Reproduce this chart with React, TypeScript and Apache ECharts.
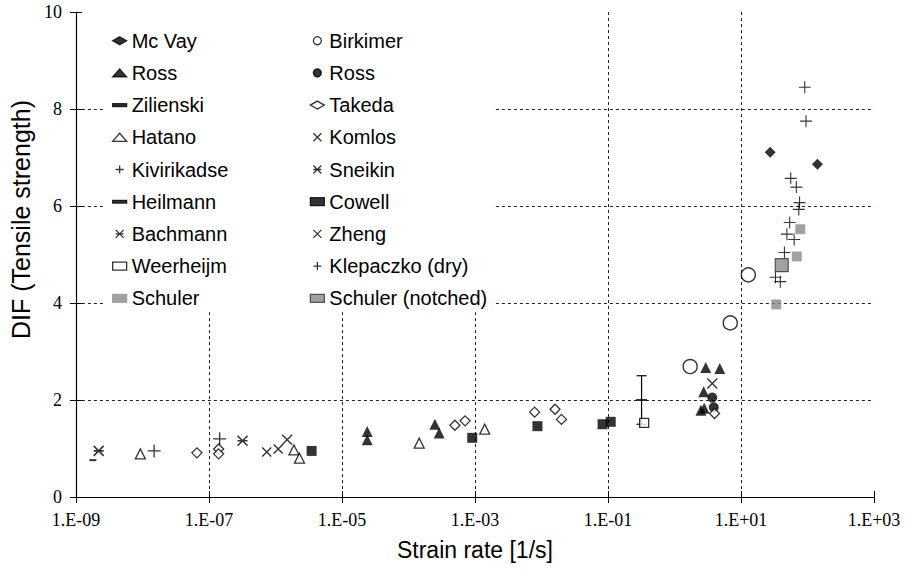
import React, { useEffect, useRef } from "react";
import * as echarts from "echarts";

// ---- data: [strain rate (1/s), DIF] ----
const mcVay = [[27.5, 7.11], [141, 6.86]];
const birkimer = [[1.72, 2.69], [6.9, 3.59], [12.9, 4.58]];
const rossTriangle = [[2.4e-5, 1.35], [2.4e-5, 1.18], [2.5e-4, 1.5], [2.9e-4, 1.32], [2.95, 2.67], [4.8, 2.65], [2.75, 2.17], [2.5, 1.79], [2.8, 1.83]];
const rossCircle = [[3.7, 2.05], [3.9, 1.85]];
const zilienski = [[0.32, 2.0]];
const zilienskiRange = [[0.32, 1.5, 2.5]];
const takeda = [[6.6e-8, 0.91], [1.4e-7, 0.99], [1.4e-7, 0.89], [5.0e-4, 1.48], [7.1e-4, 1.57], [7.9e-3, 1.75], [1.6e-2, 1.81], [2.0e-2, 1.6], [4.0, 1.72]];
const hatano = [[9.3e-9, 0.89], [1.9e-6, 0.97], [2.3e-6, 0.8], [1.45e-4, 1.11], [1.4e-3, 1.4]];
const komlos = [[7.4e-7, 0.93], [1.1e-6, 0.99]];
const zheng = [[1.5e-6, 1.18], [3.7, 2.34]];
const kivirikadse = [[1.5e-8, 0.95], [1.45e-7, 1.2]];
const sneikin = [[3.2e-7, 1.16]];
const heilmann = [[1.8e-9, 0.76]];
const bachmann = [[2.2e-9, 0.95]];
const cowell = [[3.5e-6, 0.95], [9.1e-4, 1.22], [8.7e-3, 1.46], [8.3e-2, 1.5], [0.11, 1.55]];
const weerheijm = [[0.35, 1.53]];
const klepaczko = [[91, 8.45], [95, 7.75], [56, 6.57], [68, 6.39], [76, 6.07], [74, 5.93], [54, 5.66], [49, 5.42], [63, 5.31], [45, 5.04], [33, 4.53], [39, 4.44]];
const schuler = [[78, 5.52], [69, 4.96], [34, 3.97]];
const schulerNotched = [[41, 4.78]];

const legendCol1 = ["Mc Vay", "Ross", "Zilienski", "Hatano", "Kivirikadse", "Heilmann", "Bachmann", "Weerheijm", "Schuler"];
const legendCol2 = ["Birkimer", "Ross", "Takeda", "Komlos", "Sneikin", "Cowell", "Zheng", "Klepaczko (dry)", "Schuler (notched)"];

const xMin = 1e-9;
const xMax = 1e3;
const yMin = 0;
const yMax = 10;

const PLUS = "path://M0,5L10,5M5,0L5,10";
const CROSS = "path://M0,0L10,10M10,0L0,10";
const STAR = "path://M0,0L10,10M10,0L0,10M0,5L10,5";
const DASH = "path://M0,0L10,0L10,2L0,2Z";

const fmtX = (v: number) => {
  const e = Math.round(Math.log10(v));
  return "1.E" + (e < 0 ? "-" : "+") + String(Math.abs(e)).padStart(2, "0");
};

const sc = (name: string, data: number[][], symbol: string, size: any, itemStyle: any) => ({
  type: "scatter",
  name,
  data,
  symbol,
  symbolSize: size,
  xAxisIndex: 0,
  yAxisIndex: 0,
  itemStyle,
  z: 3,
});

const BLK = { color: "#000", borderColor: "#000", borderWidth: 0 };
const OPEN = { color: "#fff", borderColor: "#000", borderWidth: 1.3 };
const STROKE = (w: number) => ({ color: "#000", borderColor: "#000", borderWidth: w });
const GREY = "#8a8a8a";

export default function App() {
  const ref = useRef<HTMLDivElement>(null);
  useEffect(() => {
    document.body.style.margin = "0";
    const chart = echarts.init(ref.current!, null, { renderer: "svg" });
    const dashed = { show: true, lineStyle: { type: [3, 3], color: "#222", width: 1 }, showMinLine: false, showMaxLine: false };
    const legendText = { fontFamily: "Liberation Sans", fontSize: 20, color: "#000", lineHeight: 20 };
    const legendBase = {
      orient: "vertical",
      top: 12,
      itemGap: 12.2,
      itemWidth: 14,
      itemHeight: 8,
      backgroundColor: "#fff",
      textStyle: legendText,
      itemStyle: { borderWidth: 1.3 },
      selectedMode: false,
    };
    chart.setOption({
      animation: false,
      grid: { left: 72, top: 12, right: 35, bottom: 75 },
      legend: [
        { ...legendBase, left: 103, padding: [18.7, 80, 4, 9], data: legendCol1 },
        {
          ...legendBase,
          left: 306,
          padding: [18.7, 6.5, 4, 3.7],
          data: legendCol2.map((n, i) => (i === 1 ? { name: n, icon: "circle" } : n)),
        },
      ],
      xAxis: [
        {
          type: "log",
          logBase: 10,
          min: xMin,
          max: xMax,
          interval: 2,
          name: "Strain rate [1/s]",
          nameLocation: "middle",
          nameGap: 41,
          nameTextStyle: { fontFamily: "Liberation Sans", fontSize: 23, color: "#000" },
          axisLine: { onZero: false, lineStyle: { color: "#000", width: 1.2 } },
          axisTick: { length: 6, lineStyle: { color: "#000", width: 1 } },
          axisLabel: { formatter: fmtX, fontFamily: "Liberation Serif", fontSize: 18, color: "#000", margin: 14 },
          splitLine: dashed,
        },
        {
          type: "log",
          logBase: 10,
          min: xMin,
          max: xMax,
          interval: 2,
          position: "bottom",
          axisLine: { show: false },
          axisTick: { inside: true, length: 6, lineStyle: { color: "#000", width: 1 } },
          axisLabel: { show: false },
          splitLine: { show: false },
        },
      ],
      yAxis: [
        {
          type: "value",
          min: yMin,
          max: yMax,
          interval: 2,
          name: "DIF (Tensile strength)",
          nameLocation: "middle",
          nameGap: 40,
          nameTextStyle: { fontFamily: "Liberation Sans", fontSize: 25, color: "#000", padding: [0, 0, 0, 70] },
          axisLine: { show: true, onZero: false, lineStyle: { color: "#000", width: 1.2 } },
          axisTick: { show: true, length: 6, lineStyle: { color: "#000", width: 1 } },
          axisLabel: { fontFamily: "Liberation Serif", fontSize: 18, color: "#000", margin: 14 },
          splitLine: dashed,
        },
        {
          type: "value",
          min: yMin,
          max: yMax,
          interval: 2,
          position: "left",
          axisLine: { show: false },
          axisTick: { show: true, inside: true, length: 6, lineStyle: { color: "#000", width: 1 } },
          axisLabel: { show: false },
          splitLine: { show: false },
        },
      ],
      series: [
        sc("Mc Vay", mcVay, "diamond", 11, BLK),
        sc("Ross", rossTriangle, "triangle", 11, BLK),
        sc("Zilienski", zilienski, DASH, [11, 2], BLK),
        sc("Hatano", hatano, "triangle", 10, OPEN),
        sc("Kivirikadse", kivirikadse, PLUS, 13, STROKE(1.3)),
        sc("Heilmann", heilmann, DASH, [7, 2], BLK),
        sc("Bachmann", bachmann, STAR, 10, STROKE(1.6)),
        sc("Weerheijm", weerheijm, "rect", 9, OPEN),
        sc("Schuler", schuler, "rect", 9, { color: GREY, borderColor: "#9a9a9a", borderWidth: 1 }),
        sc("Birkimer", birkimer, "circle", 14, { color: "#fff", borderColor: "#000", borderWidth: 1.4 }),
        sc("Ross", rossCircle, "circle", 10, BLK),
        sc("Takeda", takeda, "diamond", 10, OPEN),
        sc("Komlos", komlos, CROSS, 9, STROKE(1.4)),
        sc("Sneikin", sneikin, STAR, 10, STROKE(1.6)),
        sc("Cowell", cowell, "rect", 10, BLK),
        sc("Zheng", zheng, CROSS, 10, STROKE(1.4)),
        sc("Klepaczko (dry)", klepaczko, PLUS, 12, STROKE(1.1)),
        sc("Schuler (notched)", schulerNotched, "rect", 13, { color: GREY, borderColor: "#333", borderWidth: 1.2 }),
        {
          type: "custom",
          name: "Zilienski range",
          data: zilienskiRange,
          xAxisIndex: 0,
          yAxisIndex: 0,
          encode: { x: 0, y: [1, 2] },
          z: 3,
          renderItem: (_p: any, api: any) => {
            const x = api.value(0);
            const top = api.coord([x, api.value(2)]);
            const bot = api.coord([x, api.value(1)]);
            const w = 5;
            const st = { stroke: "#000", lineWidth: 1.2 };
            return {
              type: "group",
              children: [
                { type: "line", shape: { x1: top[0], y1: top[1], x2: bot[0], y2: bot[1] }, style: st },
                { type: "line", shape: { x1: top[0] - w, y1: top[1], x2: top[0] + w, y2: top[1] }, style: st },
                { type: "line", shape: { x1: bot[0] - w, y1: bot[1], x2: bot[0] + w, y2: bot[1] }, style: st },
              ],
            };
          },
        },
      ],
    });
    return () => chart.dispose();
  }, []);
  return <div ref={ref} style={{ width: 909, height: 572 }} />;
}
